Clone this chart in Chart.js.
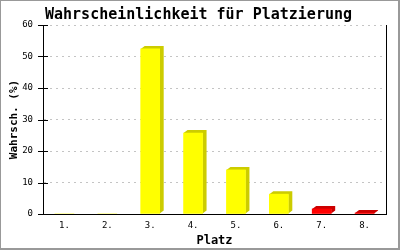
<!DOCTYPE html>
<html>
<head>
<meta charset="utf-8">
<script src="https://cdn.jsdelivr.net/npm/chart.js@4/dist/chart.umd.min.js"></script>
<style>
  html, body { margin: 0; padding: 0; background: #fff; }
  canvas { display: block; }
</style>
</head>
<body>
<canvas id="chart" width="400" height="250"></canvas>
<script>
'use strict';

const places = ['1.', '2.', '3.', '4.', '5.', '6.', '7.', '8.'];
const probability = [0, 0, 52.4, 25.7, 14.0, 6.3, 1.6, 0.3];
const barColors = ['#ffff00', '#ffff00', '#ffff00', '#ffff00', '#ffff00', '#ffff00', '#ff0000', '#ff0000'];
const sideColors = ['#cccc00', '#cccc00', '#cccc00', '#cccc00', '#cccc00', '#cccc00', '#cc0000', '#cc0000'];

const MONO = "'DejaVu Sans Mono', 'Liberation Mono', monospace";

// back/top faces of the pseudo-3d bars, drawn before the front faces
const bars3d = {
  id: 'bars3d',
  beforeDatasetsDraw(chart) {
    const ctx = chart.ctx;
    const dx = 4, dy = 3;
    chart.getDatasetMeta(0).data.forEach((bar, i) => {
      if (!probability[i]) return;
      const { x, y, base, width } = bar.getProps(['x', 'y', 'base', 'width'], true);
      const l = x - width / 2, r = x + width / 2;
      ctx.save();
      ctx.fillStyle = sideColors[i];
      ctx.beginPath();
      ctx.moveTo(l, y);
      ctx.lineTo(l + dx, y - dy);
      ctx.lineTo(r + dx, y - dy);
      ctx.lineTo(r + dx, base - dy);
      ctx.lineTo(r, base);
      ctx.lineTo(r, y);
      ctx.closePath();
      ctx.fill();
      ctx.restore();
    });
  },
  afterDraw(chart) {
    const ctx = chart.ctx;
    const a = chart.chartArea;
    const yScale = chart.scales.y;
    ctx.save();
    // right frame line
    ctx.strokeStyle = '#000';
    ctx.lineWidth = 1;
    ctx.beginPath();
    ctx.moveTo(Math.round(a.right) + 0.5, a.top);
    ctx.lineTo(Math.round(a.right) + 0.5, a.bottom);
    ctx.stroke();
    // y ticks crossing the axis
    yScale.ticks.forEach(t => {
      const py = Math.round(yScale.getPixelForValue(t.value)) + 0.5;
      ctx.beginPath();
      ctx.moveTo(a.left - 5, py);
      ctx.lineTo(a.left + 5, py);
      ctx.stroke();
    });
    // image frame
    ctx.fillStyle = '#999';
    ctx.fillRect(0, 0, 400, 1);
    ctx.fillRect(0, 0, 1, 250);
    ctx.fillRect(398, 0, 2, 250);
    ctx.fillRect(0, 248, 400, 2);
    ctx.restore();
  }
};

new Chart(document.getElementById('chart'), {
  type: 'bar',
  data: {
    labels: places,
    datasets: [{
      data: probability,
      backgroundColor: barColors,
      borderWidth: 0,
      barThickness: 19,
    }],
  },
  options: {
    responsive: false,
    animation: false,
    layout: { padding: { left: 1, right: 4, top: 0, bottom: 2 } },
    plugins: {
      legend: { display: false },
      tooltip: { enabled: false },
      title: {
        display: true,
        text: 'Wahrscheinlichkeit für Platzierung',
        color: '#000',
        font: { family: MONO, size: 15, weight: 'bold', lineHeight: 1.2 },
        padding: { top: 6, bottom: 1 },
      },
    },
    scales: {
      x: {
        afterFit: s => { s.height = 34; },
        grid: { display: false, drawTicks: false },
        border: { color: '#000', width: 1 },
        ticks: { color: '#000', font: { family: MONO, size: 9 }, padding: 6 },
        title: {
          display: true,
          text: 'Platz',
          color: '#000',
          font: { family: MONO, size: 12, weight: 'bold', lineHeight: 1.2 },
          padding: { top: 0, bottom: 0 },
        },
      },
      y: {
        min: 0,
        max: 60,
        afterFit: s => { s.width = 42; },
        grid: { color: '#c4c4c4', drawTicks: false },
        border: { color: '#000', width: 1, dash: [2, 4] },
        ticks: { stepSize: 10, color: '#000', font: { family: MONO, size: 9 }, padding: 10 },
        title: {
          display: true,
          text: 'Wahrsch. (%)',
          color: '#000',
          font: { family: MONO, size: 11, weight: 'bold', lineHeight: 1.2 },
          padding: { top: 7, bottom: 0 },
        },
      },
      // empty right-hand spacer so the plot ends where the reference does
      spacer: {
        type: 'linear',
        position: 'right',
        afterFit: s => { s.width = 10; },
        grid: { display: false, drawTicks: false },
        border: { display: false },
        ticks: { display: false },
      },
    },
  },
  plugins: [bars3d],
});
</script>
</body>
</html>
